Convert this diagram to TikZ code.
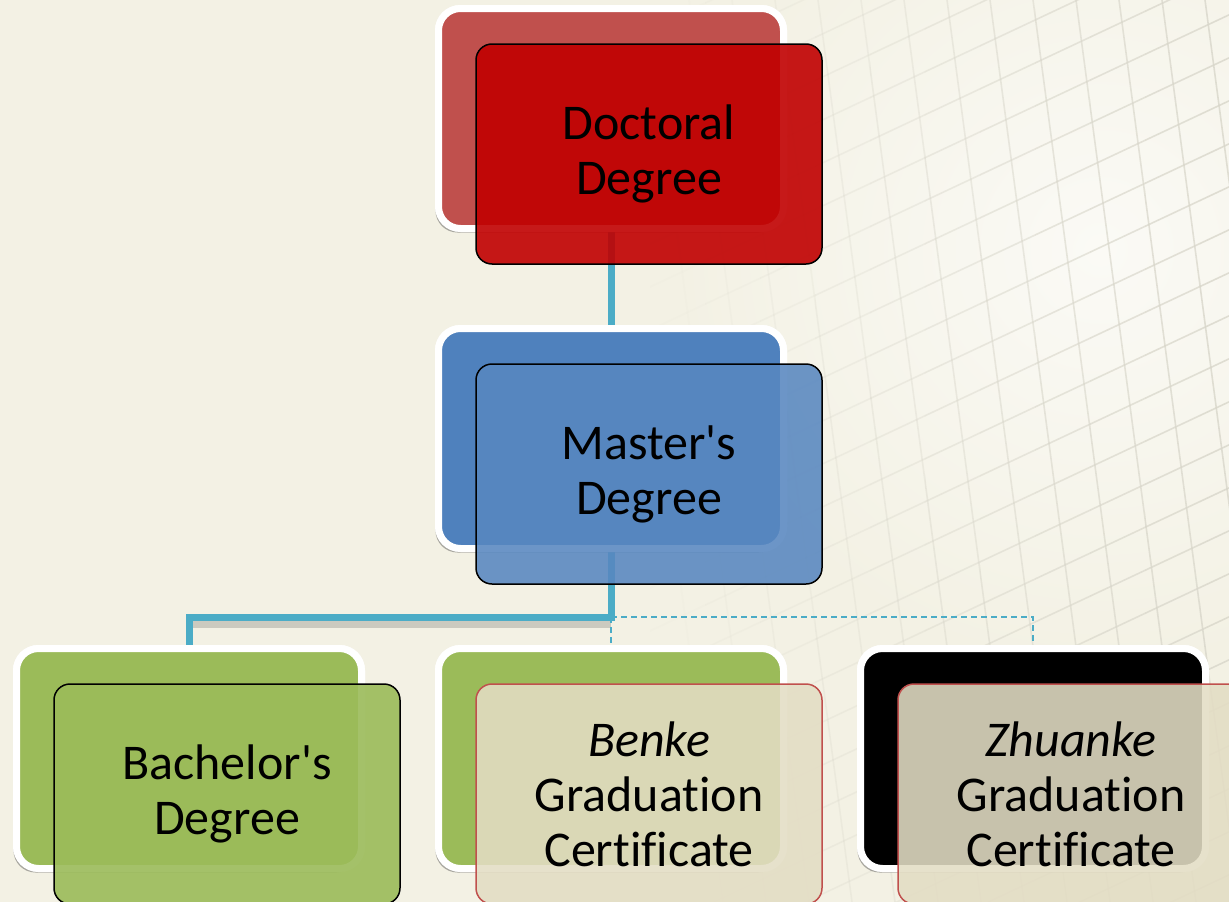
\documentclass[tikz,border=0pt]{standalone}
\usepackage{fontspec}
\setmainfont{Carlito}[Ligatures=NoCommon]
\usetikzlibrary{shadows}
\definecolor{bg}{HTML}{F3F1E4}
\definecolor{gridc}{HTML}{D8D6CA}
\definecolor{linkblue}{HTML}{4BACC6}
\definecolor{docback}{HTML}{C0504D}
\definecolor{docfront}{HTML}{C00000}
\definecolor{masback}{HTML}{4F81BD}
\definecolor{greenb}{HTML}{9BBB59}
\definecolor{tanfront}{HTML}{E3DDC4}
\definecolor{redline}{HTML}{C0504D}
\newcommand{\gridpaths}{%
  \foreach \c in {-100,-57,...,1500} {\draw (650,\c) -- (1229,\c-0.47*579);}
  \foreach \d in {560,603,...,1260} {\draw (\d,0) -- (\d+120,902);}
}
\begin{document}
\begin{tikzpicture}[x=1pt,y=-1pt,
  backbox/.style={rectangle, rounded corners=22pt, draw=white, line width=7pt,
    minimum width=345pt, minimum height=220pt, inner sep=0pt,
    drop shadow={shadow xshift=-3pt, shadow yshift=-4pt, opacity=0.25, fill=black!70}},
  frontbox/.style={rectangle, rounded corners=16pt, draw=black, line width=1.5pt,
    minimum width=346pt, minimum height=220pt, align=center, inner sep=0pt,
    font=\fontsize{50}{55}\selectfont},
  conn/.style={draw=linkblue, line width=7pt},
  dconn/.style={draw=linkblue, line width=1.5pt, dash pattern=on 6pt off 4pt},
  connshadow/.style={draw=black, opacity=0.16, line width=9pt}]
\useasboundingbox (0,0) rectangle (1229,902);
\fill[bg] (0,0) rectangle (1229,902);
\shade[inner color=white!65!bg, outer color=bg] (1100,250) circle (420);
% faint perspective grid, fading to the left
\foreach \i/\op in {0/0.06,1/0.12,2/0.2,3/0.28,4/0.36,5/0.44,6/0.52,7/0.6,8/0.66,9/0.72,10/0.78} {
  \begin{scope}
    \clip (650+\i*55,0) rectangle (705+\i*55,902);
    \begin{scope}[draw=gridc, line width=1.6pt, opacity=\op]
      \gridpaths
    \end{scope}
  \end{scope}
}

% back boxes
\node[backbox, fill=docback] (docB) at (611,118.5) {};
\node[backbox, fill=masback] (masB) at (611,438.5) {};
\node[backbox, fill=greenb] (bacB) at (189,758.5) {};
\node[backbox, fill=greenb] (benB) at (611,758.5) {};
\node[backbox, fill=black] (zhuB) at (1033,758.5) {};

% connectors
\coordinate (split) at (611,617);
\coordinate (splitL) at (189,617);
\coordinate (splitR) at (1033,617);
\draw[connshadow] ([yshift=-6pt]split) -- ([yshift=-6pt]splitL);
\draw[conn] (docB.south) -- (masB.north);
\draw[conn] (masB.south) -- (split) -- (splitL) -- (bacB.north);
\draw[dconn] (split) -- (splitR) -- (zhuB.north);
\draw[dconn] (split) -- (benB.north);

% redraw back boxes on top of the connectors
\node[backbox, fill=docback] at (docB) {};
\node[backbox, fill=masback] at (masB) {};
\node[backbox, fill=greenb] at (bacB) {};
\node[backbox, fill=greenb] at (benB) {};
\node[backbox, fill=black] at (zhuB) {};

% front boxes
\node[frontbox, fill=docfront, fill opacity=0.9, text opacity=1] (doc) at (649,154) {Doctoral\\Degree};
\node[frontbox, fill=masback!95!white, fill opacity=0.88, text opacity=1] (mas) at (649,474) {Master\textquotesingle s\\Degree};
\node[frontbox, fill=greenb, fill opacity=0.9, text opacity=1] (bac) at (227,794) {Bachelor\textquotesingle s\\Degree};
\node[frontbox, draw=redline, fill=tanfront, fill opacity=0.88, text opacity=1] (ben) at (649,794) {\textit{Benke}\\Graduation\\Certificate};
\node[frontbox, draw=redline, fill=tanfront, fill opacity=0.88, text opacity=1] (zhu) at (1071,794) {\textit{Zhuanke}\\Graduation\\Certificate};
\end{tikzpicture}
\end{document}
